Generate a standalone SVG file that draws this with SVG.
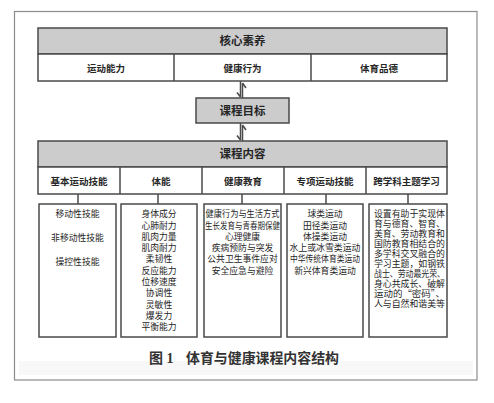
<svg xmlns="http://www.w3.org/2000/svg" width="494" height="403" viewBox="0 0 494 403">
<style>
.box{fill:#fff;stroke:#4a4a4a;stroke-width:1.5}
.hd{fill:#cccccc;stroke:#4a4a4a;stroke-width:1.5}
.ln{stroke:#4a4a4a;stroke-width:1.5;fill:none}
text{font-family:"Noto Sans CJK SC","Noto Sans CJK TC",sans-serif;fill:#262626}
.t1{font-size:11.5px;font-weight:bold;text-anchor:middle}
.t2{font-size:9.5px;font-weight:bold;text-anchor:middle}
.t3{font-size:8.8px;text-anchor:middle}
.t4{font-size:8.8px}
.cap{font-family:"Liberation Serif","Noto Sans CJK SC",serif;font-size:14px;font-weight:bold;fill:#333}
</style>
<rect x="0" y="0" width="494" height="403" fill="#fff"/>
<rect x="14.5" y="11.5" width="462.5" height="368.5" fill="none" stroke="#8c8c8c" stroke-width="1.2"/>
<rect x="19" y="361" width="454" height="14" fill="#f8f8f8"/>

<g id="core">
<rect class="hd" x="38" y="28" width="409" height="26"/>
<rect class="box" x="38" y="54" width="409" height="27"/>
<line class="ln" x1="174" y1="54" x2="174" y2="81"/>
<line class="ln" x1="311" y1="54" x2="311" y2="81"/>
<text class="t1" x="242.5" y="45">核心素养</text>
<text class="t2" x="106" y="71.5">运动能力</text>
<text class="t2" x="242.5" y="71.5">健康行为</text>
<text class="t2" x="379" y="71.5">体育品德</text>
</g>

<g id="goal">
<rect class="hd" x="196" y="98" width="93" height="25"/>
<text class="t1" x="242.5" y="115">课程目标</text>
</g>

<g id="content">
<rect class="hd" x="38" y="141" width="409" height="26"/>
<rect class="box" x="38" y="167" width="409" height="27"/>
<line class="ln" x1="120" y1="167" x2="120" y2="194"/>
<line class="ln" x1="202" y1="167" x2="202" y2="194"/>
<line class="ln" x1="284" y1="167" x2="284" y2="194"/>
<line class="ln" x1="366" y1="167" x2="366" y2="194"/>
<text class="t1" x="242.5" y="158">课程内容</text>
<text class="t2" x="79" y="184.5">基本运动技能</text>
<text class="t2" x="161" y="184.5">体能</text>
<text class="t2" x="243" y="184.5">健康教育</text>
<text class="t2" x="325" y="184.5">专项运动技能</text>
<text class="t2" x="406.5" y="184.5">跨学科主题学习</text>
</g>

<g id="connectors">
<path class="ln" d="M240.5,81V97M237,92.5L240.5,97"/>
<path class="ln" d="M242.5,83V98M242.5,83L246,88"/>
<path class="ln" d="M240.5,123V140M237,135.5L240.5,140"/>
<path class="ln" d="M242.5,125V141M242.5,125L246,130"/>
<line class="ln" x1="78" y1="194" x2="78" y2="204"/>
<line class="ln" x1="158" y1="194" x2="158" y2="204"/>
<line class="ln" x1="242" y1="194" x2="242" y2="204"/>
<line class="ln" x1="326" y1="194" x2="326" y2="204"/>
<line class="ln" x1="408" y1="194" x2="408" y2="204"/>
</g>

<g id="basic">
<rect class="box" x="39" y="204" width="77" height="133"/>
<text class="t3" x="77.5" y="217.2">移动性技能</text>
<text class="t3" x="77.5" y="241.2">非移动性技能</text>
<text class="t3" x="77.5" y="265.2">操控性技能</text>
</g>

<g id="fitness">
<rect class="box" x="121" y="204" width="76" height="133"/>
<text class="t3" x="159" y="217.2">身体成分</text>
<text class="t3" x="159" y="228.5">心肺耐力</text>
<text class="t3" x="159" y="239.8">肌肉力量</text>
<text class="t3" x="159" y="251.1">肌肉耐力</text>
<text class="t3" x="159" y="262.4">柔韧性</text>
<text class="t3" x="159" y="273.7">反应能力</text>
<text class="t3" x="159" y="285">位移速度</text>
<text class="t3" x="159" y="296.3">协调性</text>
<text class="t3" x="159" y="307.6">灵敏性</text>
<text class="t3" x="159" y="318.9">爆发力</text>
<text class="t3" x="159" y="330.2">平衡能力</text>
</g>

<g id="health">
<rect class="box" x="204" y="204" width="77" height="133"/>
<text class="t3" x="242.5" y="217.2" textLength="74" lengthAdjust="spacingAndGlyphs">健康行为与生活方式</text>
<text class="t3" x="242.5" y="228.5" textLength="75" lengthAdjust="spacingAndGlyphs">生长发育与青春期保健</text>
<text class="t3" x="242.5" y="239.8">心理健康</text>
<text class="t3" x="242.5" y="251.1">疾病预防与突发</text>
<text class="t3" x="242.5" y="262.4">公共卫生事件应对</text>
<text class="t3" x="242.5" y="273.7">安全应急与避险</text>
</g>

<g id="special">
<rect class="box" x="287" y="204" width="76" height="133"/>
<text class="t3" x="325" y="217.2">球类运动</text>
<text class="t3" x="325" y="228.5">田径类运动</text>
<text class="t3" x="325" y="239.8">体操类运动</text>
<text class="t3" x="325" y="251.1" textLength="71" lengthAdjust="spacingAndGlyphs">水上或冰雪类运动</text>
<text class="t3" x="325" y="262.4" textLength="70" lengthAdjust="spacingAndGlyphs">中华传统体育类运动</text>
<text class="t3" x="325" y="273.7">新兴体育类运动</text>
</g>

<g id="cross">
<rect class="box" x="369" y="204" width="78" height="133"/>
<text class="t4" x="374" y="217.2" textLength="71" lengthAdjust="spacingAndGlyphs">设置有助于实现体</text>
<text class="t4" x="374" y="227.2" textLength="71" lengthAdjust="spacingAndGlyphs">育与德育、智育、</text>
<text class="t4" x="374" y="237.2" textLength="71" lengthAdjust="spacingAndGlyphs">美育、劳动教育和</text>
<text class="t4" x="374" y="247.2" textLength="71" lengthAdjust="spacingAndGlyphs">国防教育相结合的</text>
<text class="t4" x="374" y="257.2" textLength="71" lengthAdjust="spacingAndGlyphs">多学科交叉融合的</text>
<text class="t4" x="374" y="267.2" textLength="71" lengthAdjust="spacingAndGlyphs">学习主题，如钢铁</text>
<text class="t4" x="374" y="277.2" textLength="71" lengthAdjust="spacingAndGlyphs">战士、劳动最光荣、</text>
<text class="t4" x="374" y="287.2" textLength="71" lengthAdjust="spacingAndGlyphs">身心共成长、破解</text>
<text class="t4" x="374" y="297.2" textLength="71" lengthAdjust="spacingAndGlyphs">运动的“密码”、</text>
<text class="t4" x="374" y="307.2" textLength="71" lengthAdjust="spacingAndGlyphs">人与自然和谐美等</text>
</g>

<g id="caption">
<text class="cap" x="149" y="363">图 1</text>
<text class="cap" x="186" y="363" textLength="153" lengthAdjust="spacingAndGlyphs">体育与健康课程内容结构</text>
</g>
</svg>
